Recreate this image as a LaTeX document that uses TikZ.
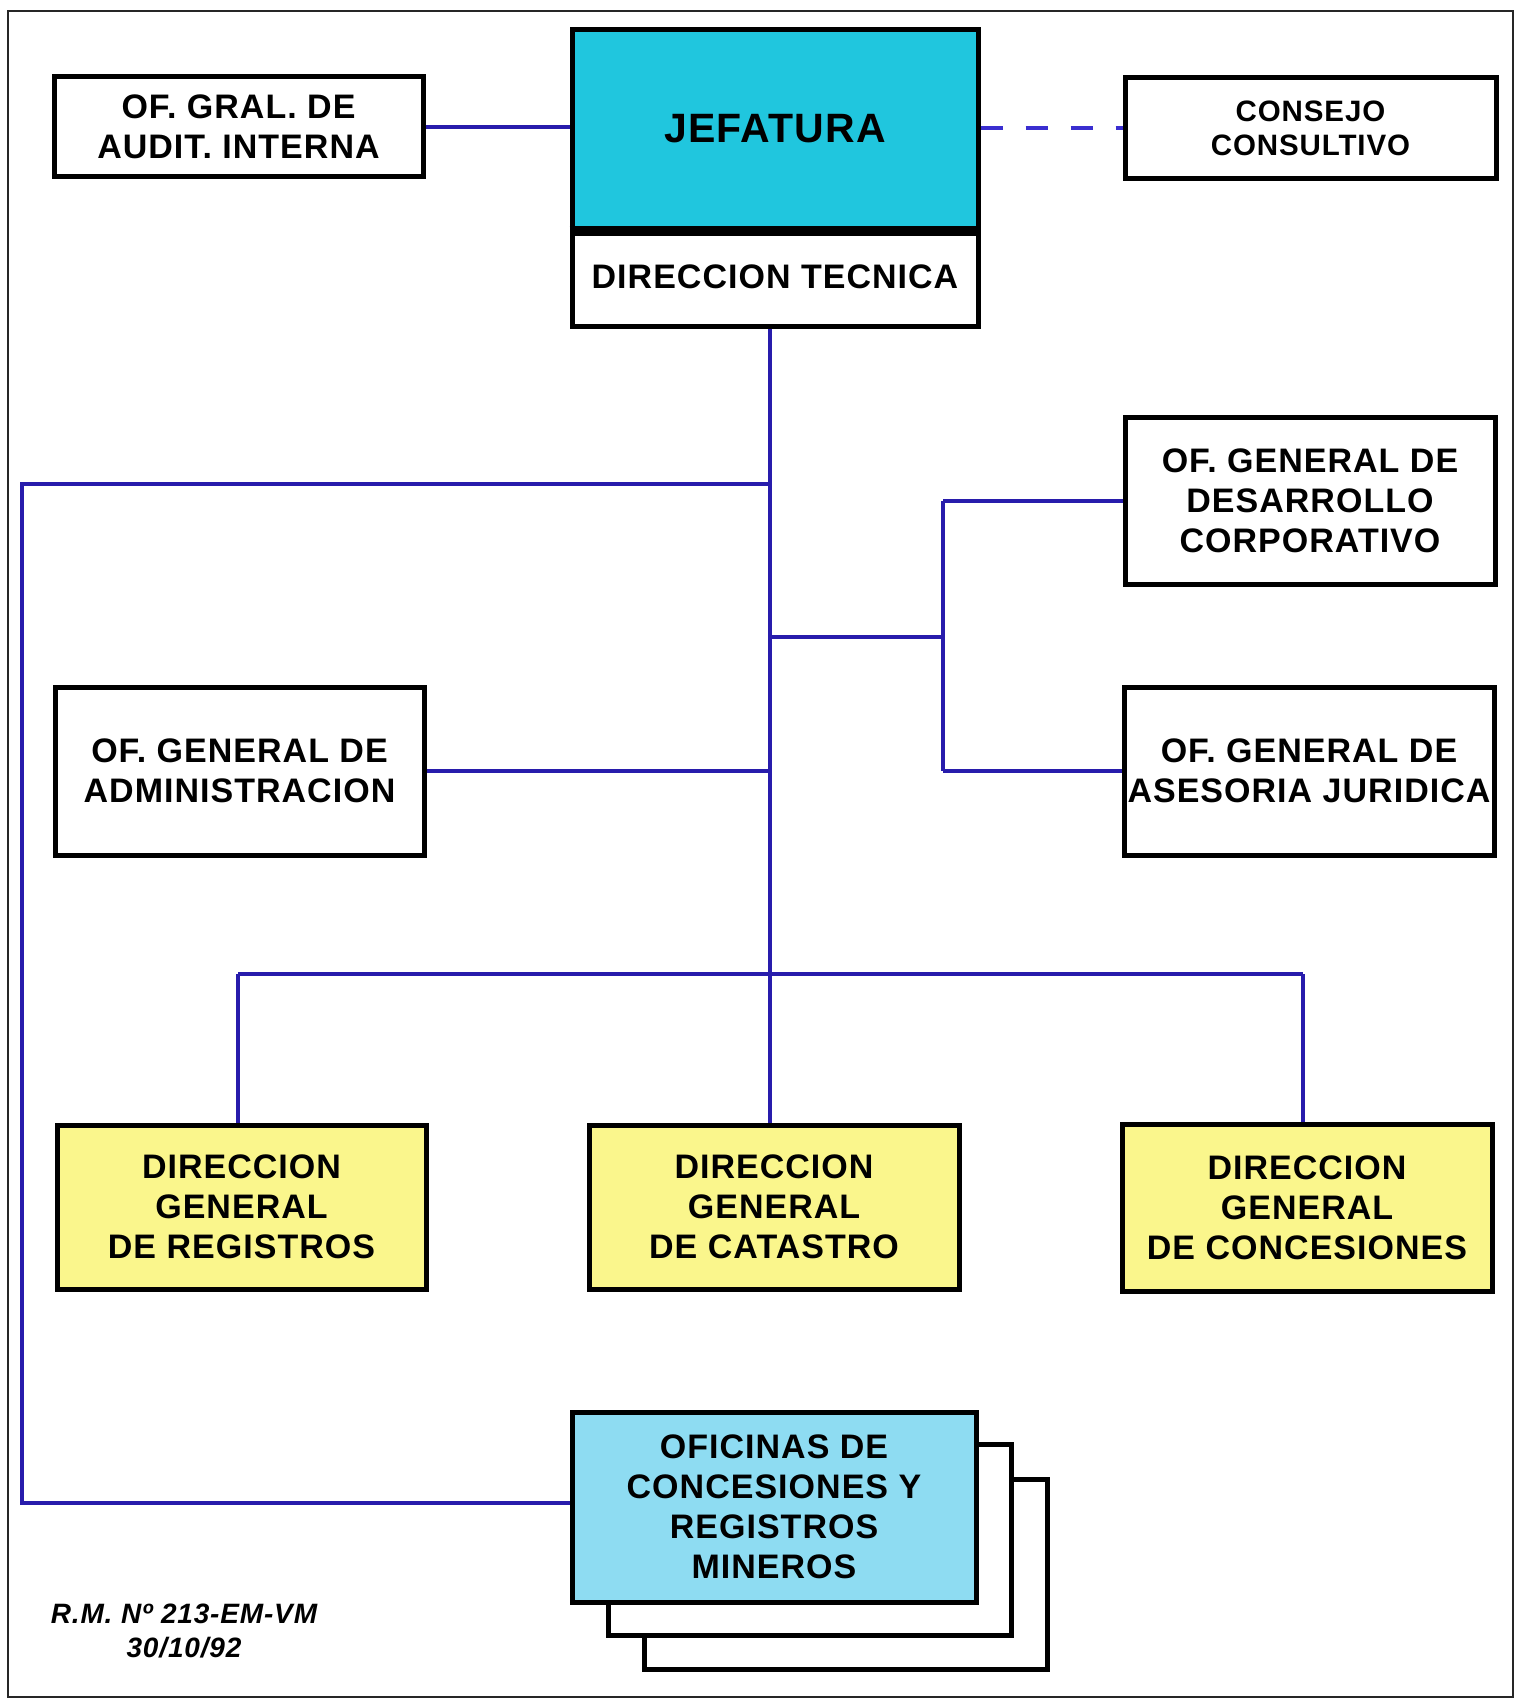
\documentclass[tikz,border=0pt]{standalone}
\usepackage{fontspec}
\setmainfont[LetterSpace=3]{Liberation Sans}
\definecolor{jefcyan}{RGB}{32,198,222}
\definecolor{ofiblue}{RGB}{142,220,242}
\definecolor{dgyellow}{RGB}{250,246,140}
\definecolor{lineblue}{RGB}{40,28,172}
\definecolor{dashblue}{RGB}{58,46,208}
\begin{document}
\begin{tikzpicture}[x=1pt,y=-1pt,
  box/.style={draw=black, line width=5pt, inner sep=0pt, align=center,
    font=\bfseries\fontsize{34}{40}\selectfont},
  conn/.style={draw=lineblue, line width=3.5pt, line join=miter},
  dconn/.style={draw=dashblue, line width=4.5pt, dash pattern=on 22pt off 23pt}]
\useasboundingbox (0,0) rectangle (1519,1699);
\draw[line width=2.5pt, black!85] (8,11) rectangle (1513,1697);

% top row
\node[box, minimum width=369pt, minimum height=100pt] (audit) at (238.5,127) {OF. GRAL. DE\\AUDIT. INTERNA};
\node[box, minimum width=406pt, minimum height=98pt] (dt) at (775,277) {DIRECCION TECNICA};
\node[box, fill=jefcyan, minimum width=406pt, minimum height=198pt,
  font=\bfseries\fontsize{41}{48}\selectfont] (jef) at (775,129) {JEFATURA};
\draw[line width=10pt, black] (jef.south west) -- (jef.south east);
\node[box, minimum width=371pt, minimum height=101pt,
  font=\bfseries\fontsize{29.5}{34}\selectfont] (consejo) at (1310.5,128) {CONSEJO\\CONSULTIVO};

% middle row
\node[box, minimum width=370pt, minimum height=167pt] (desarrollo) at (1310,501) {OF. GENERAL DE\\DESARROLLO\\CORPORATIVO};
\node[box, minimum width=370pt, minimum height=168pt] (asesoria) at (1309,771) {OF. GENERAL DE\\ASESORIA JURIDICA};
\node[box, minimum width=369pt, minimum height=168pt] (admin) at (239.5,771) {OF. GENERAL DE\\ADMINISTRACION};

% direcciones generales
\node[box, fill=dgyellow, minimum width=369pt, minimum height=164pt] (dgr) at (241.5,1207) {DIRECCION\\GENERAL\\DE REGISTROS};
\node[box, fill=dgyellow, minimum width=370pt, minimum height=164pt] (dgc) at (774,1207) {DIRECCION\\GENERAL\\DE CATASTRO};
\node[box, fill=dgyellow, minimum width=370pt, minimum height=167pt] (dgcon) at (1307,1208) {DIRECCION\\GENERAL\\DE CONCESIONES};

% oficinas (stacked)
\node[box, fill=white, minimum width=403pt, minimum height=190pt] (sh2) at (845.5,1574) {};
\node[box, fill=white, minimum width=403pt, minimum height=191pt] (sh1) at (809.5,1539.5) {};
\node[box, fill=ofiblue, minimum width=404pt, minimum height=190pt] (ofi) at (774,1507) {OFICINAS DE\\CONCESIONES Y\\REGISTROS\\MINEROS};

% note
\node[font=\bfseries\itshape\fontsize{28}{34}\selectfont, align=center, inner sep=0pt] (rm) at (184,1631) {R.M. Nº 213-EM-VM\\30/10/92};

% junctions
\coordinate (jL) at (770,484);
\coordinate (cL1) at (22,484);
\coordinate (cL2) at (22,1503);
\coordinate (jR) at (770,637);
\coordinate (rB) at (943,637);
\coordinate (bL) at (238,974);
\coordinate (bR) at (1303,974);

% connectors
\draw[conn] (audit.east) -- (audit.east -| jef.west);
\draw[dconn] (jef.east |- consejo.west) -- (consejo.west);
\draw[conn] (dt.south -| jL) -- (dgc.north -| jL);
\draw[conn] (jL) -- (cL1) -- (cL2) -- (cL2 -| ofi.west);
\draw[conn] (jR) -- (rB);
\draw[conn] (desarrollo.west -| rB) -- (asesoria.west -| rB);
\draw[conn] (desarrollo.west -| rB) -- (desarrollo.west);
\draw[conn] (asesoria.west -| rB) -- (asesoria.west);
\draw[conn] (admin.east) -- (admin.east -| jL);
\draw[conn] (bL) -- (bR);
\draw[conn] (bL) -- (bL |- dgr.north);
\draw[conn] (bR) -- (bR |- dgcon.north);
\end{tikzpicture}
\end{document}
